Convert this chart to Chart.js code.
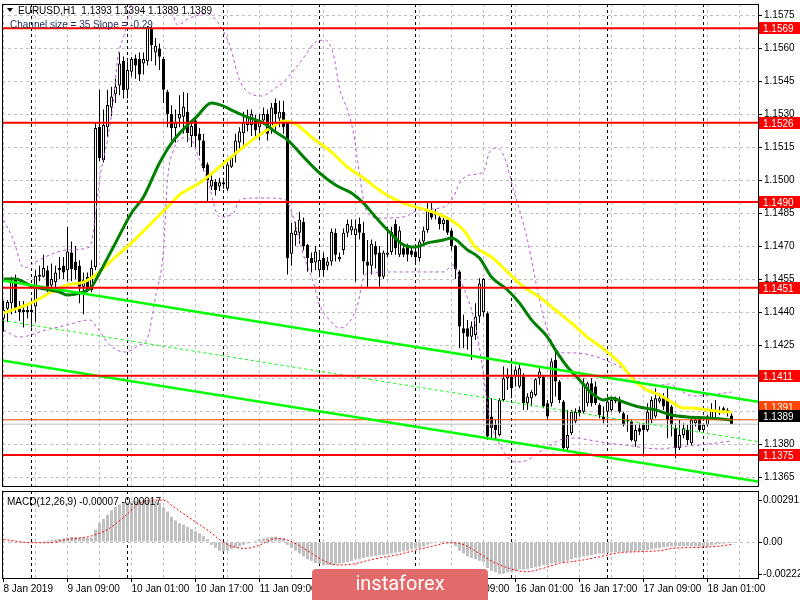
<!DOCTYPE html>
<html>
<head>
<meta charset="utf-8">
<script src="https://cdn.jsdelivr.net/npm/chart.js@4.4.0/dist/chart.umd.min.js"></script>
<style>
html, body { margin: 0; padding: 0; background: #fff; }
#wrap { position: relative; width: 800px; height: 600px; overflow: hidden; background: #fff; }
canvas { position: absolute; left: 0; }
#main { top: 0; }
#macd { top: 490px; }
</style>
</head>
<body>
<div id="wrap">
  <canvas id="main" width="800" height="490"></canvas>
  <canvas id="macd" width="800" height="110"></canvas>
</div>
<script>
// EURUSD H1, one entry per bar (bar 0 = 8 Jan 17:00)
const opens = [1.1437,1.14415,1.1444,1.1455,1.1442,1.1441,1.1440,1.1441,1.14425,1.14565,
1.1456,1.1459,1.1452,1.14535,1.1459,1.1461,1.1459,1.1467,1.1463,1.1461,
1.14515,1.1456,1.1450,1.14605,1.15242,1.1509,1.1524,1.1533,1.1539,1.1543,
1.15542,1.1541,1.15492,1.15553,1.1555,1.1553,1.1554,1.1569,1.1558,1.15598,
1.1555,1.1540,1.1530,1.15236,1.1528,1.15288,1.1531,1.1520,1.1527,1.1521,
1.1518,1.1507,1.1497,1.14992,1.1497,1.1499,1.1496,1.1506,1.15115,1.1517,
1.15212,1.1525,1.1525,1.1527,1.1524,1.1527,1.1530,1.1524,1.1535,1.1528,
1.1531,1.1526,1.14665,1.1475,1.1476,1.1481,1.14705,1.14645,1.14625,1.1459,
1.14645,1.1461,1.14629,1.1476,1.1464,1.14682,1.1476,1.1477,1.1475,1.1480,
1.1476,1.1463,1.1461,1.1470,1.1467,1.1456,1.1466,1.14673,1.1480,1.1466,
1.1469,1.1470,1.1468,1.14675,1.14645,1.1472,1.14773,1.1486,1.1484,1.1483,
1.1480,1.1482,1.1477,1.1470,1.14584,1.14326,1.14326,1.14288,1.14296,1.1438,
1.1440,1.14394,1.13925,1.13887,1.13841,1.1400,1.14099,1.14107,1.14107,1.14061,
1.14107,1.13985,1.14008,1.14023,1.14099,1.14107,1.13985,1.13985,1.14182,1.14084,
1.13993,1.13781,1.13849,1.13902,1.13955,1.13947,1.13985,1.14076,1.14061,1.13978,
1.13925,1.13947,1.13955,1.14008,1.1400,1.1394,1.13902,1.13902,1.13811,1.13872,
1.13887,1.13864,1.1391,1.13925,1.13993,1.14016,1.14008,1.1397,1.13872,1.13781,
1.13841,1.13864,1.13803,1.13894,1.13917,1.13864,1.13887,1.13917,1.13943,1.13943,
1.13955,1.13943,1.1393];
const highs = [1.1445,1.14455,1.1456,1.1457,1.1445,1.1445,1.1443,1.1446,1.1459,1.1461,
1.1466,1.1461,1.1462,1.1461,1.1465,1.1465,1.14786,1.1472,1.1470,1.14635,
1.1458,1.1458,1.14635,1.15259,1.1541,1.1532,1.1541,1.15424,1.1546,1.1558,
1.15561,1.1554,1.15559,1.1557,1.1558,1.1558,1.1570,1.1570,1.15645,1.1562,
1.1556,1.1541,1.1534,1.1532,1.15385,1.1540,1.15396,1.15273,1.1528,1.15236,
1.1521,1.1508,1.15036,1.15005,1.1501,1.1501,1.1508,1.15114,1.1521,1.1524,
1.1531,1.1532,1.1532,1.15295,1.1530,1.1533,1.1532,1.1535,1.1537,1.1536,
1.1536,1.1527,1.14805,1.1481,1.14856,1.1483,1.1471,1.1467,1.1470,1.1468,
1.1467,1.1465,1.1478,1.1478,1.1467,1.1478,1.1482,1.1482,1.1482,1.1483,
1.1481,1.14727,1.1473,1.1472,1.1470,1.1468,1.14788,1.14788,1.1482,1.1479,
1.1471,1.1471,1.1470,1.1470,1.1473,1.14788,1.1490,1.1490,1.14868,1.14845,
1.1483,1.1483,1.1478,1.14705,1.14591,1.14387,1.14364,1.14357,1.1444,1.14553,
1.14555,1.14402,1.14008,1.1391,1.14008,1.14152,1.14144,1.14152,1.14152,1.1416,
1.14122,1.14031,1.14046,1.14099,1.14144,1.14114,1.1400,1.1419,1.14235,1.14091,
1.1400,1.13955,1.13955,1.13962,1.1397,1.14099,1.14084,1.14099,1.14084,1.13985,
1.1397,1.14008,1.14008,1.14016,1.14016,1.13947,1.13932,1.1391,1.13887,1.13894,
1.13894,1.13985,1.14016,1.14053,1.14031,1.14031,1.14053,1.13977,1.13894,1.1391,
1.13894,1.13887,1.13917,1.13925,1.13925,1.13894,1.13932,1.13985,1.1400,1.1397,
1.1397,1.13962,1.1394];
const lows = [1.1431,1.14355,1.1439,1.14395,1.1436,1.1433,1.1437,1.1433,1.14355,1.1454,
1.14557,1.1449,1.1449,1.1451,1.1455,1.1455,1.1454,1.1454,1.1455,1.1444,
1.1439,1.1449,1.1449,1.1459,1.15086,1.1508,1.15197,1.1529,1.1535,1.15385,
1.1537,1.1537,1.1547,1.1546,1.1545,1.1548,1.1552,1.1554,1.1552,1.1550,
1.1535,1.1524,1.1518,1.1517,1.1524,1.1521,1.15174,1.1515,1.1515,1.1511,
1.1504,1.14895,1.14955,1.1493,1.1495,1.1496,1.1495,1.15055,1.1508,1.1513,
1.1516,1.1522,1.1520,1.1519,1.1518,1.1525,1.1518,1.1521,1.1522,1.1524,
1.1521,1.1457,1.1461,1.1470,1.1471,1.1468,1.14583,1.1458,1.1459,1.1456,
1.1456,1.1459,1.1461,1.1463,1.1463,1.1466,1.1474,1.1475,1.14537,1.1473,
1.1457,1.1451,1.1457,1.14598,1.14515,1.1455,1.1465,1.1466,1.1466,1.1465,
1.1465,1.1463,1.1465,1.1462,1.1463,1.1471,1.1476,1.1482,1.1482,1.14775,
1.1477,1.1475,1.1468,1.1455,1.14235,1.14235,1.14228,1.14182,1.14273,1.1435,
1.1438,1.13819,1.13826,1.13822,1.13834,1.13993,1.14046,1.14008,1.14061,1.14053,
1.13955,1.13955,1.1397,1.14016,1.14069,1.13962,1.1391,1.1397,1.14016,1.13985,
1.13773,1.13773,1.13841,1.13894,1.13925,1.1394,1.1397,1.1397,1.13977,1.13917,
1.13894,1.13894,1.13947,1.13985,1.1394,1.13879,1.13856,1.13811,1.13788,1.13841,
1.13743,1.13856,1.13894,1.13917,1.13985,1.13955,1.13826,1.13834,1.13735,1.13773,
1.13826,1.13796,1.13796,1.13879,1.13856,1.13856,1.13879,1.1391,1.1391,1.13932,
1.1394,1.13925,1.1389];
const closes = [1.1441,1.14445,1.1454,1.1441,1.1440,1.1440,1.1441,1.1440,1.14565,1.1456,
1.1460,1.14515,1.1455,1.1458,1.1460,1.1458,1.14675,1.14595,1.1459,1.14515,
1.14545,1.14495,1.1460,1.15236,1.1510,1.1525,1.15341,1.1538,1.15425,1.1553,
1.15409,1.1550,1.1555,1.1552,1.1548,1.1555,1.1569,1.15614,1.1561,1.1556,
1.1541,1.1530,1.15236,1.1526,1.1530,1.15333,1.15214,1.15245,1.1520,1.1518,
1.15055,1.1500,1.1500,1.14955,1.1499,1.1498,1.1507,1.1510,1.1518,1.1522,
1.1526,1.1529,1.1530,1.15227,1.1527,1.1530,1.1521,1.1533,1.1530,1.1531,
1.1524,1.14645,1.1476,1.1477,1.1482,1.1470,1.14645,1.14623,1.14675,1.14636,
1.1459,1.1463,1.14765,1.1466,1.1465,1.1476,1.1480,1.1479,1.1478,1.1476,
1.1463,1.1461,1.1471,1.1466,1.1456,1.1467,1.1467,1.14765,1.1469,1.1477,
1.1466,1.1466,1.1466,1.1465,1.1472,1.1477,1.1486,1.1483,1.1485,1.1480,
1.1482,1.1476,1.1470,1.14595,1.14334,1.14303,1.14288,1.14334,1.14379,1.1453,
1.1455,1.13834,1.13872,1.13864,1.1400,1.14099,1.14114,1.14053,1.14137,1.14144,
1.13985,1.14016,1.14038,1.14094,1.14129,1.1397,1.13925,1.14175,1.14084,1.1400,
1.13781,1.13841,1.13947,1.13947,1.1394,1.14076,1.14076,1.13985,1.13985,1.13932,
1.1391,1.13993,1.1400,1.13993,1.13947,1.13887,1.13905,1.13818,1.13864,1.13856,
1.13864,1.13947,1.1400,1.14008,1.14008,1.1397,1.1391,1.13887,1.13781,1.13841,
1.13872,1.13818,1.1391,1.1391,1.13864,1.13887,1.13925,1.13955,1.13952,1.13952,
1.13953,1.13955,1.1389];

// moving averages, read at sample bars
const fastMaBars = [0,3,7,14,16,19,22,24,28,32,35,39,42,46,48,52,55,57,61,65,68,71,75,79,83,87,90,93,96,100,103,106,110,112,116,119,122,126,129,132,136,138,141,144,147,150,152,155,159,163,167,171,176,182];
const fastMaVals = [1.1455,1.1455,1.14518,1.14491,1.14477,1.14486,1.14514,1.14577,1.14714,1.1485,1.14923,1.15077,1.15168,1.1525,1.15282,1.1535,1.15336,1.15318,1.15286,1.15259,1.15218,1.15182,1.15105,1.15032,1.14977,1.14941,1.14895,1.14832,1.14773,1.14705,1.14695,1.14714,1.14727,1.14736,1.14682,1.14645,1.14559,1.1450,1.14441,1.14364,1.14286,1.14227,1.1415,1.14091,1.14032,1.1400,1.14009,1.13991,1.13968,1.13955,1.13932,1.13923,1.13918,1.13909];
const slowMaBars = [0,7,12,16,20,23,28,32,36,41,44,49,54,59,64,68,70,73,77,82,86,90,95,100,104,108,111,115,118,122,126,130,134,138,142,146,151,155,157,161,164,167,170,172,176,181,182];
const slowMaVals = [1.14395,1.14441,1.14491,1.14523,1.14536,1.14568,1.1465,1.14714,1.14786,1.14877,1.14932,1.14986,1.15059,1.15136,1.15205,1.1525,1.15268,1.15255,1.15195,1.15127,1.15059,1.15009,1.14941,1.14895,1.14873,1.1485,1.14827,1.14773,1.14695,1.1465,1.14582,1.14514,1.14468,1.14409,1.1435,1.14286,1.14218,1.1415,1.1410,1.14045,1.14023,1.13991,1.13964,1.13964,1.13955,1.13945,1.13945];

// bands
const upperBandBars = [0,2.5,5,8,11.5,16,21.5,23,24,26,27.5,28.5,30.5,32,34,38,41,43.5,46.5,51,54,56.5,59,61.5,64.5,68,70,73,75.5,78,80.5,82.5,84,86,87.5,88.5,90,91,94,100,104,110,112.5,114,116.5,120,121.5,123.5,125.5,127.5,129,131,132.5,134,136,138,140.5,142.5,146.5,151,155,159,163,166.5,169,172.5,176.5,182];
const upperBandVals = [1.14818,1.14727,1.1460,1.14627,1.14659,1.14682,1.14695,1.14841,1.15,1.15182,1.15364,1.15545,1.15682,1.15818,1.15955,1.16,1.15864,1.15705,1.15736,1.15755,1.15705,1.15614,1.15455,1.15395,1.15382,1.15418,1.15445,1.15509,1.15568,1.15627,1.15636,1.15568,1.15418,1.15318,1.15214,1.15091,1.14909,1.1485,1.14827,1.14832,1.14864,1.14877,1.14923,1.14986,1.15023,1.15036,1.15127,1.15145,1.15091,1.14955,1.14864,1.14727,1.14591,1.14455,1.14318,1.14236,1.14214,1.14214,1.14205,1.14177,1.14141,1.14082,1.14064,1.14073,1.14045,1.14018,1.14023,1.14036];
const lowerBandBars = [0,4,10.5,16,21.5,23.5,26.5,30.5,34,36,38,40,41,42.5,45,47,49,51,54,57.5,59,63,66.5,70.5,73,75,77.5,79,81.5,84,86.5,88.5,90,91.5,96.5,101.5,106.5,110,112.5,114,116,118,120,121.5,123.5,126,128,131,134,136.5,139,143,146.5,150.5,155.5,160.5,164,168,174,182];
const lowerBandVals = [1.14318,1.14286,1.14318,1.14341,1.14364,1.14327,1.1425,1.14218,1.1425,1.14282,1.14468,1.14682,1.15,1.15136,1.15191,1.15182,1.15091,1.15,1.14832,1.1485,1.14909,1.14918,1.14918,1.14909,1.14795,1.14659,1.14532,1.14432,1.14364,1.14327,1.14355,1.14432,1.14555,1.14577,1.14582,1.14582,1.14582,1.14582,1.14614,1.14555,1.14464,1.14341,1.14114,1.13918,1.13818,1.13741,1.13718,1.13727,1.13764,1.13791,1.13818,1.13827,1.13818,1.13805,1.13795,1.13782,1.13777,1.13786,1.13795,1.13814];

// regression channel, ends at the chart edges
const channelBars = [-0.375, 188.625];
const channelUpper = [1.14543, 1.13992];
const channelMid = [1.14362, 1.13811];
const channelLower = [1.14180, 1.13629];

const levelPrices = [1.1569, 1.1526, 1.1490, 1.1451, 1.1411, 1.1375];
const bidPrice = 1.1389;
const askPrice = 1.1391;
const priceTicks = [1.1365,1.1380,1.1395,1.1410,1.1425,1.1440,1.1455,1.1470,1.1485,1.1500,1.1515,1.1530,1.1545,1.1560,1.1575];

// MACD(12,26,9)
const macdHist = [
0.00005,0.00005,0.00008,0.00003,-0.00003,-0.00005,-0.00006,-0.00005,0.00002,0.00004,
0.00008,0.0001,0.00014,0.00018,0.00022,0.00025,0.00032,0.00035,0.00035,0.00032,
0.0003,0.00028,0.0003,0.00085,0.0013,0.0016,0.0019,0.0022,0.00245,0.0026,
0.0027,0.00275,0.0028,0.00285,0.00289,0.0029,0.00291,0.0029,0.00285,0.0027,
0.0024,0.0021,0.00175,0.0015,0.0013,0.0012,0.00105,0.0009,0.00075,0.0006,
0.0004,0.0002,-0.0002,-0.0004,-0.0006,-0.00065,-0.0006,-0.0005,-0.0004,-0.0003,
-0.0002,-0.0001,0.0,0.0001,0.0002,0.00025,0.0003,0.00035,0.00037,0.0003,
0.00025,-0.0002,-0.0004,-0.0006,-0.0008,-0.001,-0.0012,-0.0013,-0.00145,-0.0015,
-0.0016,-0.0016,-0.0016,-0.00155,-0.0015,-0.00145,-0.0014,-0.00132,-0.0012,-0.0012,
-0.0011,-0.00105,-0.001,-0.00095,-0.0009,-0.0009,-0.00085,-0.0008,-0.00075,-0.0007,
-0.00065,-0.0006,-0.0005,-0.00045,-0.0004,-0.0003,-0.0002,-0.0001,-0.00005,0.00005,
0.00008,0.00005,-0.0001,-0.0003,-0.0006,-0.0008,-0.001,-0.0011,-0.0012,-0.0013,
-0.0014,-0.0018,-0.002,-0.0021,-0.00222,-0.0022,-0.0021,-0.0021,-0.002,-0.0019,
-0.0019,-0.00188,-0.0018,-0.00175,-0.0017,-0.0016,-0.0016,-0.0015,-0.00148,-0.0014,
-0.0014,-0.0013,-0.0012,-0.0011,-0.00105,-0.001,-0.00095,-0.0009,-0.00085,-0.0008,
-0.0008,-0.00075,-0.0007,-0.0007,-0.00068,-0.00068,-0.00068,-0.00066,-0.00066,-0.00062,
-0.0006,-0.00055,-0.0005,-0.00045,-0.0004,-0.00035,-0.00032,-0.0003,-0.0003,-0.0003,
-0.00028,-0.00028,-0.0003,-0.0003,-0.00032,-0.0003,-0.00028,-0.00022,-0.00018,-0.00014,
-0.0001,-0.00008,-0.00007];
const signalBars = [0,7,11.5,16,22,26.5,30.7,34,37.3,39.8,43,47.3,51.5,54.8,57.3,60.7,64,68.2,71.5,75.7,79.8,83.2,87.3,91.5,95.7,99,103.2,107.3,111.5,114,118.2,122.3,126.5,130.7,134.8,139,144,149,154,159,164,167.3,174,179,182];
const signalVals = [0.00018,-0.00005,-0.00005,0.00018,0.00042,0.00095,0.00187,0.00268,0.0029,0.0029,0.00233,0.00153,0.00072,0.00002,-0.00032,-0.00044,-0.00021,0.00025,0.00009,-0.00055,-0.00125,-0.00159,-0.00153,-0.00125,-0.00102,-0.00086,-0.00055,-0.00028,-0.00005,-0.00009,-0.00067,-0.00136,-0.00183,-0.00206,-0.00183,-0.00148,-0.00129,-0.00102,-0.00074,-0.00067,-0.0006,-0.00044,-0.00037,-0.00028,-0.00017];
const macdTicks = [-0.00222, 0, 0.00291];

const timeLabels = ['8 Jan 2019','9 Jan 09:00','10 Jan 01:00','10 Jan 17:00','11 Jan 09:00','14 Jan 01:00','14 Jan 17:00','15 Jan 09:00','16 Jan 01:00','16 Jan 17:00','17 Jan 09:00','18 Jan 01:00'];
const dayStartBars = [7,31,55,79,103,127,151,175];

const X_MIN = -0.375, X_MAX = 188.625;
const P_MIN = 1.136091, P_MAX = 1.158;
const M_MIN = -0.002494, M_MAX = 0.003534;
const FONT = '"Liberation Sans", Arial, sans-serif';

Chart.defaults.font.family = FONT;
Chart.defaults.font.size = 10;
Chart.defaults.color = '#000';

let gridBars = [];
for (let b = 0; b <= 184; b += 8) gridBars.push(b);
const xTicks = gridBars.concat(dayStartBars).sort((a, b) => a - b);

function pts(xs, ys) { return xs.map((x, k) => ({x: x, y: ys[k]})); }
function flat(p) { return [{x: X_MIN, y: p}, {x: X_MAX, y: p}]; }
const gridColor = c => (c.tick && dayStartBars.includes(c.tick.value)) ? '#000000' : '#c0c0c0';
// keep the scales from padding the plot area for their edge labels
function noPad(s) { s.paddingTop = 0; s.paddingBottom = 0; s.paddingLeft = 0; s.paddingRight = 0; }

let wicks = opens.map((o, i) => ({x: i, y: [lows[i], highs[i]]}));
let bodies = opens.map((o, i) => ({x: i, y: [o, closes[i]]}));
let bodyFill = opens.map((o, i) => closes[i] >= o ? '#ffffff' : '#000000');

function lineSet(data, color, width, order, dash) {
  return {type: 'line', data: data, borderColor: color, borderWidth: width, pointRadius: 0,
          borderDash: dash || [], cubicInterpolationMode: 'monotone', order: order};
}

let datasets = [
  {type: 'bar', data: wicks, backgroundColor: '#000', borderWidth: 0, barThickness: 1,
   grouped: false, inflateAmount: 0, order: 30},
  {type: 'bar', data: bodies, backgroundColor: bodyFill, borderColor: '#000', borderWidth: 1,
   borderSkipped: false, barThickness: 3, minBarLength: 2, grouped: false, inflateAmount: 0, order: 29},
  lineSet(pts(upperBandBars, upperBandVals), '#ba55d3', 1, 20, [3, 3]),
  lineSet(pts(lowerBandBars, lowerBandVals), '#ba55d3', 1, 20, [3, 3]),
  lineSet(pts(slowMaBars, slowMaVals), '#ffff00', 3, 15),
  lineSet(pts(fastMaBars, fastMaVals), '#008000', 3, 14),
  lineSet(flat(bidPrice), '#c0c0c0', 1, 12),
  lineSet(flat(askPrice), '#ff4500', 1, 11),
  lineSet(pts(channelBars, channelUpper), '#00ff00', 2.5, 9),
  lineSet(pts(channelBars, channelMid), '#00ff00', 1, 9, [3, 3]),
  lineSet(pts(channelBars, channelLower), '#00ff00', 2.5, 9)
];
levelPrices.forEach(p => datasets.push(lineSet(flat(p), '#ff0000', 2, 5)));

const framePlugin = {
  id: 'frame',
  afterDraw(chart) {
    const a = chart.chartArea, ctx = chart.ctx;
    ctx.save();
    ctx.strokeStyle = '#000';
    ctx.lineWidth = 1;
    ctx.strokeRect(a.left + 0.5, a.top + 0.5, a.right - a.left, a.bottom - a.top);
    ctx.restore();
  }
};

const mainText = {
  id: 'mainText',
  afterDraw(chart) {
    const ctx = chart.ctx, ys = chart.scales.y;
    ctx.save();
    ctx.font = '10px ' + FONT;
    ctx.textBaseline = 'alphabetic';
    ctx.fillStyle = '#000';
    ctx.beginPath(); ctx.moveTo(7, 8); ctx.lineTo(13, 8); ctx.lineTo(10, 12); ctx.closePath(); ctx.fill();
    ctx.fillText('EURUSD,H1  1.1393 1.1394 1.1389 1.1389', 18, 14);
    ctx.fillStyle = '#1f2d5c';
    ctx.fillText('Channel size = 35 Slope = -0.29', 10, 28);

    function tag(y, text, bg) {
      y = Math.round(y);
      ctx.fillStyle = bg;
      ctx.fillRect(759, y - 6, 41, 12);
      ctx.fillStyle = '#fff';
      ctx.fillText(text, 763, y + 4);
    }
    levelPrices.forEach(p => tag(ys.getPixelForValue(p), p.toFixed(4), '#ff0000'));
    const bidY = ys.getPixelForValue(bidPrice) - 8;
    tag(bidY - 9, askPrice.toFixed(4), '#ff4500');
    tag(bidY, bidPrice.toFixed(4), '#000000');
    ctx.restore();
  }
};

new Chart(document.getElementById('main'), {
  type: 'bar',
  data: {datasets: datasets},
  options: {
    responsive: false, animation: false, events: [],
    layout: {autoPadding: false, padding: {left: 2, top: 4, right: 0, bottom: 4}},
    plugins: {legend: {display: false}, tooltip: {enabled: false}},
    scales: {
      x: {type: 'linear', min: X_MIN, max: X_MAX, offset: false,
          afterBuildTicks: s => { s.ticks = xTicks.map(v => ({value: v})); },
          afterFit: s => { s.height = 0; noPad(s); },
          ticks: {display: false},
          grid: {offset: false, drawTicks: false, color: gridColor, lineWidth: 1},
          border: {display: false, dash: [3, 3]}},
      y: {position: 'right', min: P_MIN, max: P_MAX,
          afterBuildTicks: s => { s.ticks = priceTicks.map(v => ({value: v})); },
          afterFit: s => { s.width = 42; noPad(s); },
          ticks: {color: '#000', padding: 2, autoSkip: false, callback: v => Number(v).toFixed(4)},
          grid: {color: '#c0c0c0', tickColor: '#000', tickLength: 4, lineWidth: 1},
          border: {display: true, color: '#000', dash: [3, 3]}}
    }
  },
  plugins: [framePlugin, mainText]
});

const macdText = {
  id: 'macdText',
  afterDraw(chart) {
    const ctx = chart.ctx;
    ctx.save();
    ctx.font = '10px ' + FONT;
    ctx.fillStyle = '#000';
    ctx.fillText('MACD(12,26,9) -0.00007 -0.00017', 7, 15);
    // instaforex watermark
    ctx.fillStyle = '#e26a6a';
    ctx.beginPath();
    ctx.roundRect(312, 79, 176, 36, 4);
    ctx.fill();
    ctx.fillStyle = '#ffffff';
    ctx.font = '20px Roboto, "Open Sans", sans-serif';
    ctx.textAlign = 'center';
    ctx.fillText('instaforex', 400, 100);
    ctx.restore();
  }
};

new Chart(document.getElementById('macd'), {
  type: 'bar',
  data: {datasets: [
    {type: 'bar', data: macdHist.map((v, i) => ({x: i, y: v})), backgroundColor: '#c0c0c0',
     borderWidth: 0, barThickness: 3, grouped: false, inflateAmount: 0, order: 10},
    lineSet(pts(signalBars, signalVals), '#ff0000', 1, 5, [2, 2])
  ]},
  options: {
    responsive: false, animation: false, events: [],
    layout: {autoPadding: false, padding: {left: 2, top: 1, right: 0, bottom: 0}},
    plugins: {legend: {display: false}, tooltip: {enabled: false}},
    scales: {
      x: {type: 'linear', min: X_MIN, max: X_MAX, offset: false,
          afterBuildTicks: s => { s.ticks = xTicks.map(v => ({value: v})); },
          afterFit: s => { s.height = 22; noPad(s); },
          ticks: {autoSkip: false, maxRotation: 0, minRotation: 0, align: 'start', padding: 1, color: '#000',
                  callback: v => (v % 16 === 0 && v / 16 < timeLabels.length) ? timeLabels[v / 16] : ''},
          grid: {offset: false, color: gridColor, lineWidth: 1, tickLength: 4,
                 tickColor: c => (c.tick && c.tick.value % 16 === 0 && c.tick.value / 16 < timeLabels.length) ? '#000' : 'rgba(0,0,0,0)'},
          border: {display: true, color: '#000', dash: [3, 3]}},
      y: {position: 'right', min: M_MIN, max: M_MAX,
          afterBuildTicks: s => { s.ticks = macdTicks.map(v => ({value: v})); },
          afterFit: s => { s.width = 42; noPad(s); },
          ticks: {color: '#000', padding: 1, autoSkip: false,
                  callback: v => v === 0 ? '0.00' : Number(v).toFixed(5)},
          grid: {color: c => (c.tick && c.tick.value === 0) ? '#c0c0c0' : 'rgba(0,0,0,0)', tickColor: '#000', tickLength: 4},
          border: {display: true, color: '#000', dash: [3, 3]}}
    }
  },
  plugins: [framePlugin, macdText]
});
</script>
</body>
</html>
